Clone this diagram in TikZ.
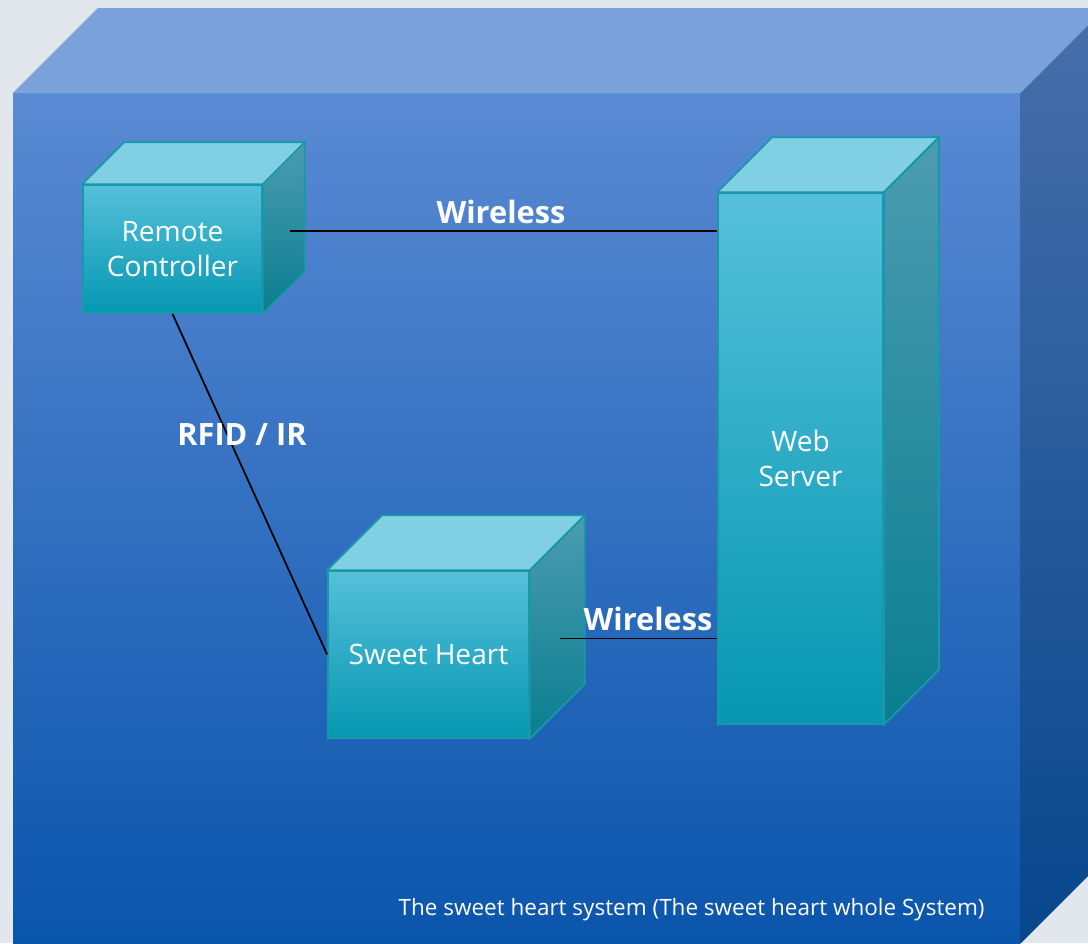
\documentclass[tikz,border=0pt]{standalone}
\usepackage{fontspec}
\setmainfont{Open Sans}
\usepackage{tikz}
\usetikzlibrary{positioning,calc}
\usepackage{xcolor}
\definecolor{bggray}{HTML}{E2E7ED}
\definecolor{systop}{HTML}{7BA2DA}
\definecolor{sysfronttop}{HTML}{5A8AD3}
\definecolor{sysfrontbot}{HTML}{0A55AC}
\definecolor{syssidetop}{HTML}{476FAA}
\definecolor{syssidebot}{HTML}{08468C}
\definecolor{cubetop}{HTML}{80CFE3}
\definecolor{cubefronttop}{HTML}{56C0DA}
\definecolor{cubefrontbot}{HTML}{0597B1}
\definecolor{cubesidetop}{HTML}{4C9CB0}
\definecolor{cubesidebot}{HTML}{0A7E90}
\definecolor{cubeline}{HTML}{1898A8}
\tikzstyle{sysfront}=[rectangle,inner sep=0,top color=sysfronttop,bottom color=sysfrontbot]
\tikzstyle{cube}=[rectangle,draw=cubeline,line width=1pt,top color=cubefronttop,bottom color=cubefrontbot,
  text=white,align=center,font=\fontsize{16}{20}\selectfont,inner sep=0]
\tikzstyle{cubeface}=[draw=cubeline,line width=1pt]
\tikzstyle{link}=[line width=1pt,black]
\tikzstyle{linklabel}=[text=white,font=\fontsize{17.5}{20}\selectfont\bfseries,inner sep=1pt]
% top and right faces of a box drawn behind its front node
\newcommand{\boxfaces}[2]{%
  \filldraw[cubeface,fill=cubetop] (#1.north west) -- ++(#2,-#2) -- ($(#1.north east)+(#2,-#2)$) -- (#1.north east) -- cycle;
  \filldraw[cubeface,top color=cubesidetop,bottom color=cubesidebot] (#1.north east) -- ++(#2,-#2) -- ($(#1.south east)+(#2,-#2)$) -- (#1.south east) -- cycle;}

\begin{document}
\begin{tikzpicture}[x=0.02cm,y=-0.02cm]
  \fill[bggray] (0,0) rectangle (1088,943);
  \useasboundingbox (0,0) rectangle (1088,943);

  % the whole system
  \begin{scope}
    \clip (0,0) rectangle (1088,943);
    \node[sysfront,minimum width=20.14cm,minimum height=17cm] (sys) at (516.5,518.5) {};
    \fill[systop] (sys.north west) -- ++(85,-85) -- ($(sys.north east)+(85,-85)$) -- (sys.north east) -- cycle;
    \shade[top color=syssidetop,bottom color=syssidebot] (sys.north east) -- ++(85,-85) -- ($(sys.south east)+(85,-85)$) -- (sys.south east) -- cycle;
  \end{scope}
  \node[anchor=east,text=white,font=\fontsize{12.8}{15}\selectfont,inner sep=0] (caption) at (985,910)
    {The sweet heart system (The sweet heart whole System)};

  % the three parts
  \node[cube,minimum width=3.58cm,minimum height=2.56cm] (rc) at (172.5,249) {Remote\\Controller};
  \boxfaces{rc}{42}
  \node[cube,minimum width=3.3cm,minimum height=10.62cm] (ws) at (800.5,458.5) {Web\\Server};
  \boxfaces{ws}{55}
  \node[cube,minimum width=4.02cm,minimum height=3.34cm] (sh) at (428.5,654.5) {Sweet Heart};
  \boxfaces{sh}{55}

  % links
  \coordinate (rcout) at ($(rc.east)+(27,-18)$);
  \coordinate (shout) at ($(sh.east)+(30,-16)$);
  \draw[link] (rcout) -- (ws.west |- rcout);
  \draw[link] (rc.south) -- (sh.west);
  \draw[link] (shout) -- (ws.west |- shout);
  \node[linklabel] (w1) at (501,212) {Wireless};
  \node[linklabel] (rf) at (242,435) {RFID / IR};
  \node[linklabel] (w2) at (648,619) {Wireless};
\end{tikzpicture}
\end{document}
